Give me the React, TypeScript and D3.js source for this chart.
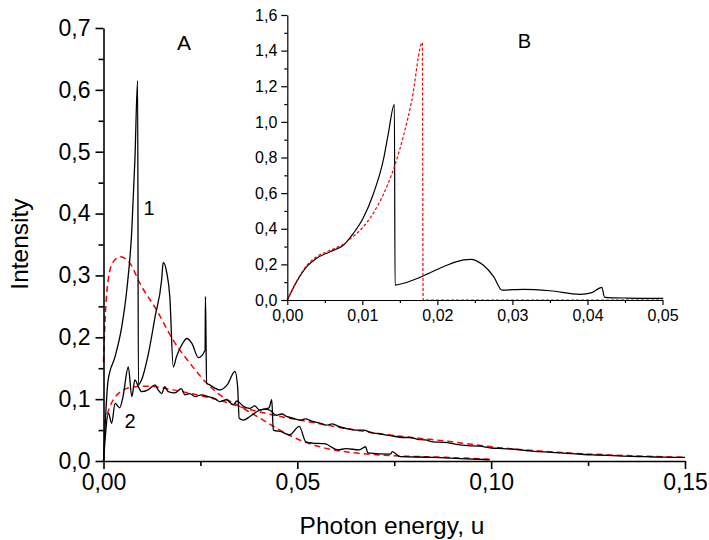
import { useEffect, useRef } from "react";
import * as d3 from "d3";

type Pt = [number, number];

// main panel A: curve 1 (spiky, ends at 0.10)
const curve1: Pt[] = [
  [0, 0], [0.0012, 0.131], [0.003, 0.169], [0.0047, 0.217], [0.006, 0.276],
  [0.0073, 0.373], [0.0081, 0.487], [0.0088, 0.615], [0.009, 0.123],
  [0.0098, 0.131], [0.0116, 0.174], [0.0133, 0.233], [0.015, 0.293],
  [0.0154, 0.321], [0.0163, 0.305], [0.0171, 0.266], [0.018, 0.152],
  [0.0188, 0.168], [0.0204, 0.19], [0.0215, 0.198], [0.0228, 0.19],
  [0.0245, 0.167], [0.0262, 0.179], [0.0263, 0.266], [0.0266, 0.126],
  [0.0274, 0.123], [0.03, 0.115], [0.032, 0.124], [0.0339, 0.145],
  [0.0346, 0.12], [0.035, 0.069], [0.0361, 0.066], [0.0378, 0.072],
  [0.0402, 0.082], [0.0427, 0.086], [0.0434, 0.099], [0.0438, 0.05],
  [0.046, 0.047], [0.048, 0.042], [0.0505, 0.056], [0.0522, 0.031],
  [0.054, 0.029], [0.057, 0.028], [0.0605, 0.018], [0.0625, 0.02],
  [0.066, 0.018], [0.0676, 0.023], [0.0682, 0.013], [0.074, 0.011],
  [0.0745, 0.015], [0.0765, 0.007], [0.085, 0.006], [0.092, 0.004],
  [0.0996, 0.002],
];

// main panel A: curve 2 (plateau ~0.12, runs to 0.15)
const curve2: Pt[] = [
  [0, 0], [0.0013, 0.077], [0.0021, 0.061], [0.003, 0.093], [0.0042, 0.086],
  [0.005, 0.103], [0.0064, 0.152], [0.0073, 0.104], [0.0081, 0.131],
  [0.009, 0.12], [0.0098, 0.112], [0.0115, 0.115], [0.0133, 0.123],
  [0.0141, 0.115], [0.015, 0.109], [0.0158, 0.12], [0.0167, 0.112],
  [0.0184, 0.11], [0.0201, 0.117], [0.021, 0.107], [0.0223, 0.109],
  [0.0236, 0.104], [0.0253, 0.107], [0.027, 0.104], [0.0287, 0.101],
  [0.03, 0.096], [0.0317, 0.099], [0.0335, 0.091], [0.0344, 0.097],
  [0.036, 0.089], [0.0377, 0.085], [0.039, 0.089], [0.0403, 0.082],
  [0.0416, 0.084], [0.0429, 0.082], [0.0446, 0.074], [0.046, 0.076],
  [0.0472, 0.072], [0.049, 0.069], [0.0507, 0.066], [0.052, 0.068],
  [0.054, 0.064], [0.056, 0.061], [0.0575, 0.058], [0.059, 0.06],
  [0.061, 0.055], [0.063, 0.052], [0.065, 0.05], [0.067, 0.05],
  [0.069, 0.046], [0.071, 0.044], [0.073, 0.042], [0.075, 0.04],
  [0.077, 0.038], [0.079, 0.038], [0.081, 0.035], [0.083, 0.034],
  [0.085, 0.031], [0.088, 0.03], [0.091, 0.027], [0.094, 0.025],
  [0.097, 0.024], [0.1, 0.021], [0.103, 0.02], [0.106, 0.019],
  [0.109, 0.017], [0.112, 0.015], [0.115, 0.0145], [0.118, 0.013],
  [0.121, 0.012], [0.124, 0.0105], [0.127, 0.0097], [0.13, 0.009],
  [0.134, 0.008], [0.138, 0.0073], [0.142, 0.0065], [0.146, 0.006],
  [0.15, 0.0057],
];

// red dashed fits in panel A
const fit1: Pt[] = [
  [0, 0.16], [0.0005, 0.239], [0.0012, 0.292], [0.0025, 0.322],
  [0.0043, 0.33], [0.0069, 0.319], [0.0094, 0.287], [0.0137, 0.244],
  [0.018, 0.195], [0.0223, 0.158], [0.0266, 0.126], [0.03, 0.107],
  [0.0352, 0.088], [0.0403, 0.0695], [0.0455, 0.05], [0.0506, 0.034],
  [0.0558, 0.023], [0.0643, 0.0134], [0.0713, 0.0097], [0.088, 0.006],
  [0.0996, 0.003],
];

const fit2: Pt[] = [
  [0.0002, 0.06], [0.002, 0.093], [0.004, 0.11], [0.007, 0.119],
  [0.011, 0.121], [0.018, 0.115], [0.024, 0.107], [0.03, 0.098],
  [0.035, 0.088], [0.044, 0.074], [0.0525, 0.064], [0.065, 0.05],
  [0.074, 0.042], [0.09, 0.031], [0.1, 0.023], [0.115, 0.015],
  [0.131, 0.0097], [0.15, 0.006],
];

// inset B
const insetCurve: Pt[] = [
  [0, 0], [0.00125, 0.103], [0.0026, 0.187], [0.0039, 0.234],
  [0.0057, 0.271], [0.0075, 0.309], [0.0088, 0.374], [0.0101, 0.459],
  [0.0115, 0.599], [0.0128, 0.786], [0.01347, 0.936], [0.01427, 1.099],
  [0.01436, 0.084], [0.0155, 0.094], [0.0181, 0.135], [0.0208, 0.187],
  [0.0235, 0.225], [0.0244, 0.228], [0.0261, 0.196], [0.0275, 0.131],
  [0.0286, 0.056], [0.0315, 0.06], [0.035, 0.052], [0.039, 0.032],
  [0.0406, 0.041], [0.0419, 0.071], [0.0423, 0.015], [0.0452, 0.011],
  [0.0501, 0.009],
];

const insetFit: Pt[] = [
  [0, 0], [0.00125, 0.107], [0.0026, 0.195], [0.0039, 0.243],
  [0.0057, 0.279], [0.0075, 0.314], [0.0088, 0.357], [0.0101, 0.41],
  [0.0115, 0.49], [0.01236, 0.555], [0.0134, 0.65], [0.01436, 0.76],
  [0.01547, 0.92], [0.01659, 1.12], [0.018, 1.445], [0.0181, 0],
  [0.05, 0],
];

const mainXTicks = [0, 0.05, 0.1, 0.15];
const mainXMinor = [0.025, 0.075, 0.125];
const mainYTicks = [0, 0.1, 0.2, 0.3, 0.4, 0.5, 0.6, 0.7];
const mainYMinor = [0.05, 0.15, 0.25, 0.35, 0.45, 0.55, 0.65];
const insetXTicks = [0, 0.01, 0.02, 0.03, 0.04, 0.05];
const insetXMinor = [0.005, 0.015, 0.025, 0.035, 0.045];
const insetYTicks = [0, 0.2, 0.4, 0.6, 0.8, 1.0, 1.2, 1.4, 1.6];
const insetYMinor = [0.1, 0.3, 0.5, 0.7, 0.9, 1.1, 1.3, 1.5];

const FONT = "'Liberation Sans', Arial, Helvetica, sans-serif";

const comma = d3.formatLocale({
  decimal: ",",
  thousands: ".",
  grouping: [3],
  currency: ["", ""],
});

export default function App() {
  const gRef = useRef<SVGGElement>(null);

  const mx = d3.scaleLinear().domain([0, 0.15]).range([103.5, 685]);
  const my = d3.scaleLinear().domain([0, 0.7]).range([461, 28]);
  const ix = d3.scaleLinear().domain([0, 0.05]).range([287.3, 662.5]);
  const iy = d3.scaleLinear().domain([0, 1.6]).range([300, 15]);

  const mainLine = d3
    .line<Pt>()
    .x((d) => mx(d[0]))
    .y((d) => my(d[1]))
    .curve(d3.curveMonotoneX);
  const insetLine = d3
    .line<Pt>()
    .x((d) => ix(d[0]))
    .y((d) => iy(d[1]))
    .curve(d3.curveMonotoneX);

  useEffect(() => {
    const root = d3.select(gRef.current);
    root.selectAll("*").remove();

    const style = (g: d3.Selection<SVGGElement, unknown, null, undefined>, size: number, width: number) => {
      g.attr("font-family", FONT).attr("font-size", size);
      g.selectAll("path.domain").attr("stroke-width", width);
      g.selectAll(".tick line").attr("stroke-width", width);
      g.selectAll(".tick text").attr("fill", "#000");
    };

    // main axes
    const mxg = root.append("g").attr("transform", `translate(0,${my(0)})`);
    mxg.call(
      d3.axisBottom(mx).tickValues(mainXTicks).tickSize(8).tickSizeOuter(0)
        .tickPadding(5).tickFormat((d) => comma.format(".2f")(d as number))
    );
    style(mxg, 23, 1.6);
    const mxm = root.append("g").attr("transform", `translate(0,${my(0)})`);
    mxm.call(d3.axisBottom(mx).tickValues(mainXMinor).tickSize(5).tickFormat(() => ""));
    mxm.select("path.domain").remove();
    style(mxm, 23, 1.6);

    const myg = root.append("g").attr("transform", `translate(${mx(0)},0)`);
    myg.call(
      d3.axisLeft(my).tickValues(mainYTicks).tickSize(8).tickSizeOuter(0)
        .tickPadding(5).tickFormat((d) => comma.format(".1f")(d as number))
    );
    style(myg, 23, 1.6);
    const mym = root.append("g").attr("transform", `translate(${mx(0)},0)`);
    mym.call(d3.axisLeft(my).tickValues(mainYMinor).tickSize(5).tickFormat(() => ""));
    mym.select("path.domain").remove();
    style(mym, 23, 1.6);

    // inset axes
    const ixg = root.append("g").attr("transform", `translate(0,${iy(0)})`);
    ixg.call(
      d3.axisBottom(ix).tickValues(insetXTicks).tickSize(5).tickSizeOuter(0)
        .tickPadding(5).tickFormat((d) => comma.format(".2f")(d as number))
    );
    style(ixg, 16, 1.2);
    const ixm = root.append("g").attr("transform", `translate(0,${iy(0)})`);
    ixm.call(d3.axisBottom(ix).tickValues(insetXMinor).tickSize(3).tickFormat(() => ""));
    ixm.select("path.domain").remove();
    style(ixm, 16, 1.2);

    const iyg = root.append("g").attr("transform", `translate(${ix(0)},0)`);
    iyg.call(
      d3.axisLeft(iy).tickValues(insetYTicks).tickSize(6).tickSizeOuter(0)
        .tickPadding(4).tickFormat((d) => comma.format(".1f")(d as number))
    );
    style(iyg, 16, 1.2);
    const iym = root.append("g").attr("transform", `translate(${ix(0)},0)`);
    iym.call(d3.axisLeft(iy).tickValues(insetYMinor).tickSize(3).tickFormat(() => ""));
    iym.select("path.domain").remove();
    style(iym, 16, 1.2);
  }, []);

  return (
    <svg
      width={709}
      height={540}
      style={{ position: "absolute", left: 0, top: 0, background: "#fff" }}
      fontFamily={FONT}
    >
      <rect width={709} height={540} fill="#fff" />

      {/* panel A fits */}
      <path d={mainLine(fit1) ?? ""} fill="none" stroke="#ff0000" strokeWidth={1.5} strokeDasharray="6,4" />
      <path d={mainLine(fit2) ?? ""} fill="none" stroke="#ff0000" strokeWidth={1.5} strokeDasharray="6,4" />
      {/* panel A curves */}
      <path d={mainLine(curve2) ?? ""} fill="none" stroke="#000" strokeWidth={1.3} strokeLinejoin="round" />
      <path d={mainLine(curve1) ?? ""} fill="none" stroke="#000" strokeWidth={1.3} strokeLinejoin="round" />

      {/* inset B */}
      <path d={insetLine(insetCurve) ?? ""} fill="none" stroke="#000" strokeWidth={1.2} strokeLinejoin="round" />
      <path d={insetLine(insetFit) ?? ""} fill="none" stroke="#ff0000" strokeWidth={1.2} strokeDasharray="3,2" />

      <g ref={gRef} />

      <text x={184} y={50} fontSize={21} textAnchor="middle">A</text>
      <text x={524.5} y={48} fontSize={20} textAnchor="middle">B</text>
      <text x={149} y={215} fontSize={20} textAnchor="middle">1</text>
      <text x={130} y={428} fontSize={20} textAnchor="middle">2</text>

      <text x={392} y={534} fontSize={24.5} textAnchor="middle">Photon energy, u</text>
      <text transform="translate(28,244) rotate(-90)" fontSize={24.5} textAnchor="middle">Intensity</text>
    </svg>
  );
}
